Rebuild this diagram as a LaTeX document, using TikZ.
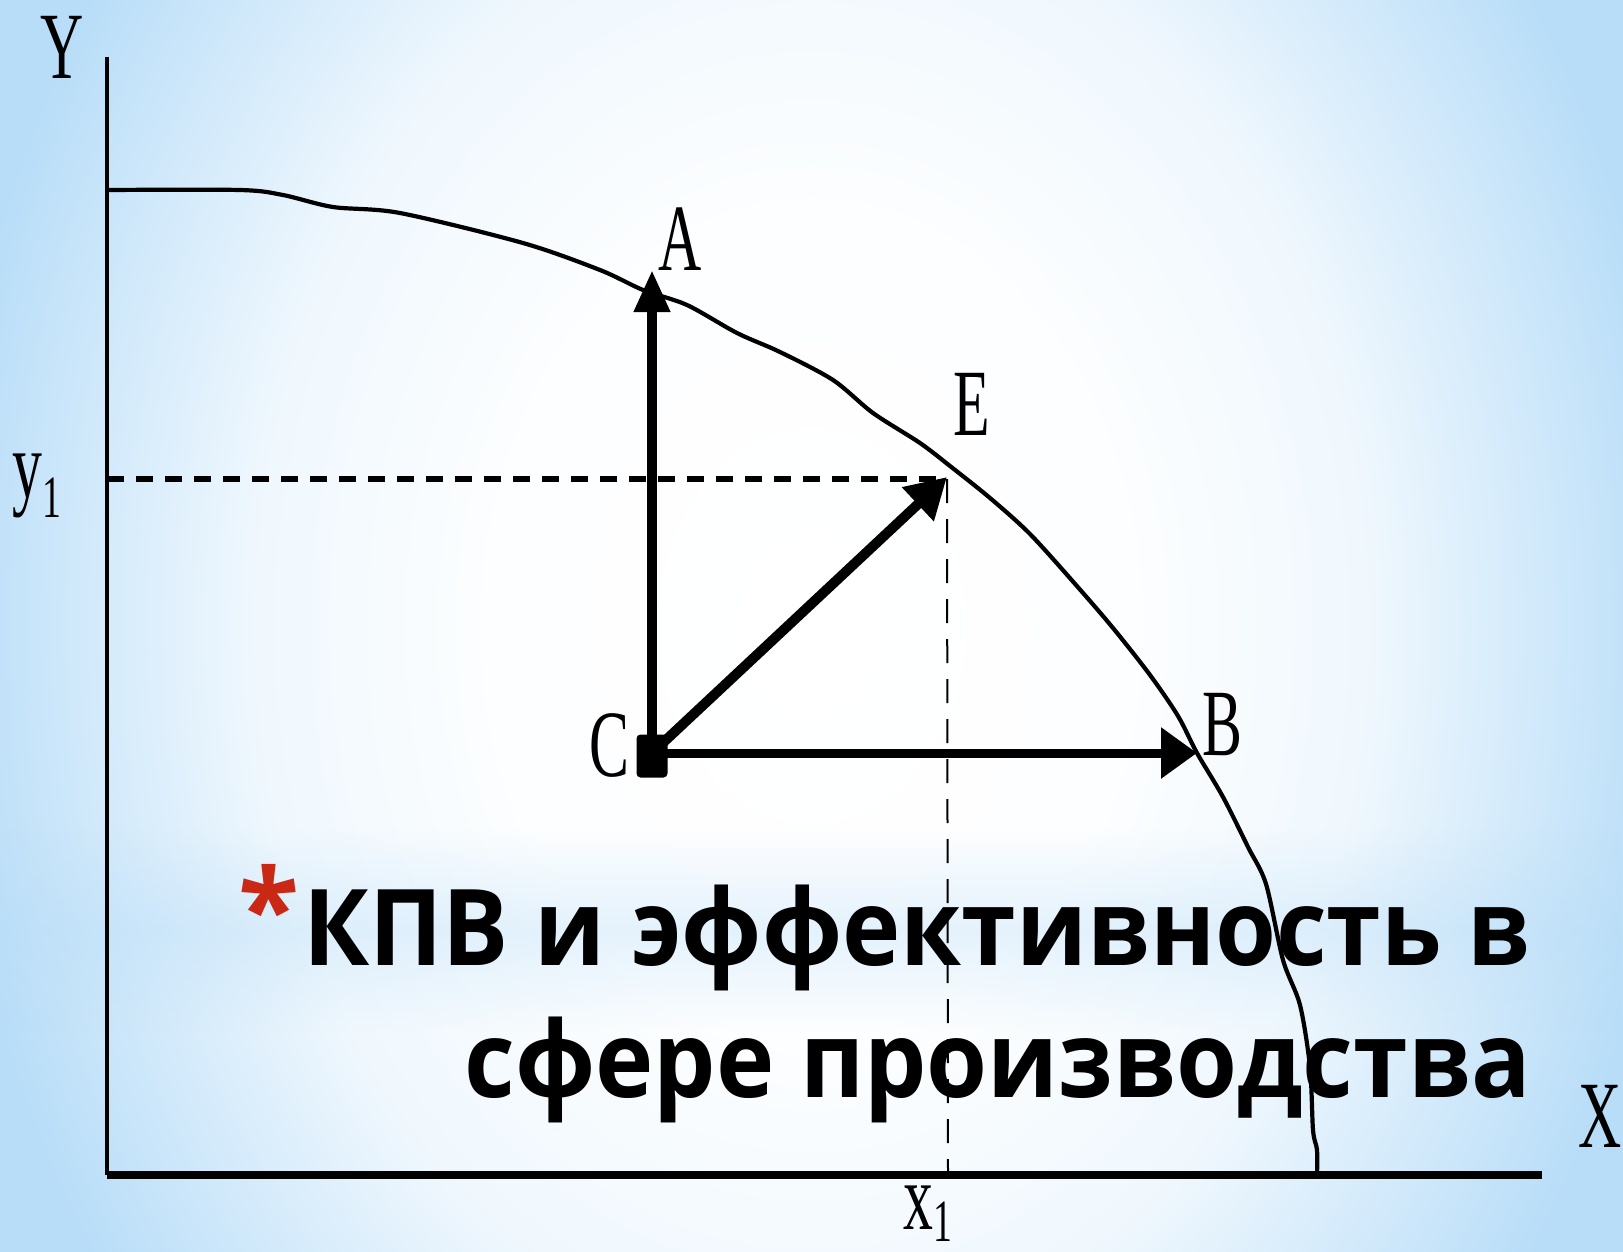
\documentclass[tikz,border=0pt]{standalone}
\usepackage{fontspec}
\usepackage{graphicx}
\setmainfont{Liberation Serif}
\newfontfamily\titlefont{Open Sans}
\usetikzlibrary{arrows.meta,fadings}
\definecolor{sky}{RGB}{184,221,248}
\definecolor{astred}{RGB}{200,40,20}
\pgfdeclareradialshading{bgshade}{\pgfpoint{0bp}{0bp}}{color(0bp)=(white); color(9bp)=(white!97!sky); color(16bp)=(white!78!sky); color(25bp)=(sky); color(50bp)=(sky)}
\tikzfading[name=bandfade, top color=transparent!100, bottom color=transparent!100, middle color=transparent!35]
\tikzset{
  lbl/.style={inner sep=0pt, anchor=base, font=\fontsize{95}{95}\selectfont},
  vec/.style={line width=10pt},
  axis/.style={line width=#1, line cap=butt},
  ppf/.style={line width=4.2pt, line join=round},
  guide/.style={line width=5.5pt, dash pattern=on 17pt off 12pt},
  thinguide/.style={line width=2pt, dash pattern=on 24pt off 16pt},
  ttl/.style={inner sep=0pt, anchor=base east, font=\titlefont\bfseries\fontsize{106}{132}\selectfont}
}
\newcommand{\sq}[1]{\scalebox{0.63}[1]{#1}}
\newcommand{\tq}[1]{\scalebox{0.93}[1]{#1}}
\begin{document}
\begin{tikzpicture}[x=1pt,y=-1pt]
\useasboundingbox (0,0) rectangle (1623,1251);
% background
\begin{scope}
\clip (0,0) rectangle (1623,1251);
\shade[shading=bgshade] (-60,-500) rectangle (1683,1751);
\fill[sky, opacity=0.55, path fading=bandfade] (0,830) rectangle (1623,1030);
\end{scope}

% coordinates
\coordinate (O) at (107,1175);
\coordinate (Ytop) at (107,57);
\coordinate (Xend) at (1542,1175);
\coordinate (Y1) at (107,479);
\coordinate (E) at (947,479);
\coordinate (X1) at (948,1175);
\coordinate (C) at (652,753);
\coordinate (Atip) at (652,270);
\coordinate (Etip) at (947,477);
\coordinate (Btip) at (1197,753);

% axes
\draw[axis=4.5pt] (Ytop) -- (O);
\draw[axis=7.5pt] (O) -- (Xend);

% production possibility frontier
\draw[ppf] plot[smooth, tension=0.5] coordinates {
 (107,190) (240,190) (283,195) (333,207) (400,213) (523,243) (600,270)
 (643,290) (687,305) (737,333) (780,352) (833,380) (873,413) (920,443)
 (950,466) (990,498) (1030,534) (1076,585) (1113,628) (1150,675)
 (1178,716) (1197,753) (1223,797) (1248,847) (1266,884) (1283,960)
 (1300,1005) (1310,1067) (1313,1130) (1317,1150) (1317,1175)};

% guides
\draw[guide] (Y1) -- (E);
\draw[thinguide] (E) -- (X1);

% vectors
\draw[vec, -{Triangle[length=42pt,width=34pt]}] (C) -- (Atip);
\draw[vec, -{Triangle[length=40pt,width=44pt]}] (C) -- (Etip);
\draw[vec, line width=9pt, -{Triangle[length=36pt,width=49pt]}] (C) -- (Btip);
\node[fill=black, rounded corners=4pt, minimum width=31pt, minimum height=43pt, inner sep=0pt] (Cdot) at (652,756) {};

% labels
\node[lbl] (labY) at (62,78) {\sq{Y}};
\node[lbl] (labA) at (680,270) {\sq{A}};
\node[lbl] (labE) at (972,435) {\sq{E}};
\node[lbl] (labB) at (1222,755) {\sq{B}};
\node[lbl] (labC) at (609,776) {\sq{C}};
\node[lbl] (labX) at (1600,1147) {\sq{X}};
\node[lbl, anchor=base west] (laby1) at (12,497) {\sq{y\raisebox{-20pt}{\fontsize{60}{60}\selectfont 1}}};
\node[lbl, anchor=base west] (labx1) at (903,1229) {\sq{x\raisebox{-12pt}{\fontsize{60}{60}\selectfont 1}}};

% title
\node[inner sep=0pt, anchor=north west, text=astred, font=\titlefont\bfseries\fontsize{112}{112}\selectfont] (ast) at (238,864) {*};
\node[ttl] (t1) at (1531,965) {\tq{КПВ и эффективность в}};
\node[ttl] (t2) at (1531,1097) {\tq{сфере производства}};
\end{tikzpicture}
\end{document}
